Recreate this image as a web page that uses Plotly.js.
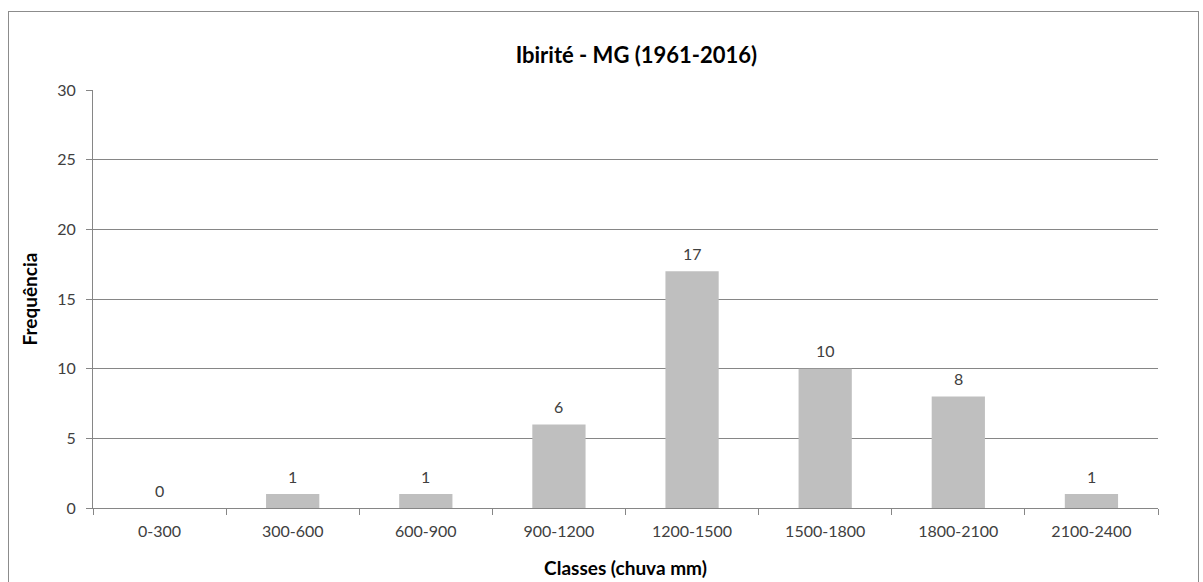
<!DOCTYPE html>
<html><head><meta charset="utf-8">
<script src="https://cdn.plot.ly/plotly-3.0.1.min.js"></script>
<style>
body{margin:0;padding:0;background:#fff;}
#wrap{position:relative;width:1203px;height:582px;}
#chart{position:absolute;left:0;top:0;width:1203px;height:582px;}
#frame{position:absolute;left:8px;top:11px;width:1189px;height:580px;border:1px solid #8c8c8c;pointer-events:none;}
</style></head>
<body>
<div id="wrap"><div id="chart"></div><div id="frame"></div></div>
<script>
const categories = ["0-300","300-600","600-900","900-1200","1200-1500","1500-1800","1800-2100","2100-2400"];
const frequencies = [0,1,1,6,17,10,8,1];
const yTicks = [0,5,10,15,20,25,30];

const FONT = "Lato, 'Open Sans', 'DejaVu Sans', sans-serif";
const trace = {
  type: "bar",
  x: categories,
  y: frequencies,
  marker: {color: "#bfbfbf"},
  hoverinfo: "x+y"
};
const labels = categories.map((c, i) => ({
  x: c, y: frequencies[i], xref: "x", yref: "y",
  text: String(frequencies[i]), showarrow: false,
  yanchor: "middle", yshift: 18,
  font: {family: FONT, size: 16, color: "#404040"}
}));
const layout = {
  width: 1203, height: 582,
  margin: {l: 93, r: 45, t: 90, b: 74},
  paper_bgcolor: "#ffffff", plot_bgcolor: "#ffffff",
  bargap: 0.6,
  showlegend: false,
  font: {family: FONT, color: "#404040", size: 16},
  title: {text: "<b>Ibirité - MG (1961-2016)</b>", xref: "container", x: 0.529, xanchor: "center", yref: "container", y: 0.905, yanchor: "middle", font: {family: FONT, size: 22, color: "#000"}},
  annotations: labels,
  xaxis: {
    type: "category",
    tickson: "boundaries", ticks: "outside", ticklen: 6, tickcolor: "#868686",
    ticklabelstandoff: 9,
    showline: true, linecolor: "#868686", linewidth: 1,
    showgrid: false, zeroline: false,
    tickfont: {family: FONT, size: 16, color: "#404040"},
    title: {text: "<b>Classes (chuva mm)</b>", standoff: 22, font: {family: FONT, size: 19, color: "#000"}}
  },
  yaxis: {
    range: [0, 30], tickvals: yTicks, ticktext: yTicks.map(String),
    ticks: "outside", ticklen: 6, tickcolor: "#868686",
    ticklabelstandoff: 7,
    showline: true, linecolor: "#868686", linewidth: 1,
    showgrid: true, gridcolor: "#868686", gridwidth: 1, zeroline: false,
    tickfont: {family: FONT, size: 16, color: "#404040"},
    title: {text: "<b>Frequência</b>", standoff: 14, font: {family: FONT, size: 19, color: "#000"}}
  }
};
Plotly.newPlot("chart", [trace], layout, {displayModeBar: false, staticPlot: true});
</script>
</body></html>
